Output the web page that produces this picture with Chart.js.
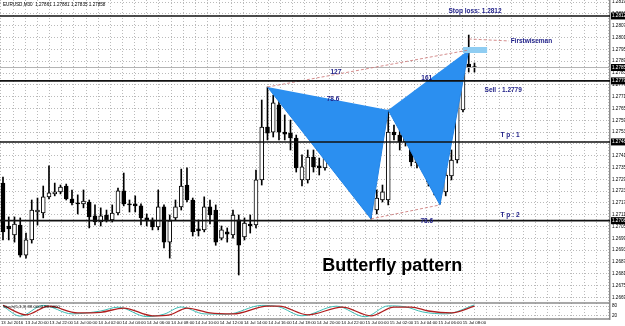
<!DOCTYPE html>
<html>
<head>
<meta charset="utf-8">
<script src="https://cdn.jsdelivr.net/npm/chart.js@4.4.1/dist/chart.umd.min.js"></script>
<style>
  html, body { margin: 0; padding: 0; background: #fff; }
  #wrap { position: relative; width: 625px; height: 326px; overflow: hidden; background: #fff; }
  #main { position: absolute; left: 0; top: 0; }
  #sub { position: absolute; left: 0; top: 302px; }
</style>
</head>
<body>
<div id="wrap">
  <canvas id="main" width="625" height="302"></canvas>
  <canvas id="sub" width="625" height="24"></canvas>
</div>
<script>
// ===== EURUSD M30 — butterfly pattern =====

// candles
const opens = [
  1.27271, 1.27053, 1.27007, 1.27058, 1.26905, 1.26982, 1.27124, 1.27119, 1.27201, 1.27216,
  1.27226, 1.27256, 1.27190, 1.27170, 1.27165, 1.27175, 1.27104, 1.27073, 1.27109, 1.27084,
  1.27119, 1.27231, 1.27165, 1.27165, 1.27155, 1.27094, 1.27084, 1.27048, 1.27150, 1.26971,
  1.27094, 1.27150, 1.27261, 1.27185, 1.27038, 1.27033, 1.27150, 1.27134, 1.26991, 1.27023,
  1.27007, 1.27084, 1.26997, 1.27063, 1.27058, 1.27287, 1.27556, 1.27530, 1.27668, 1.27530,
  1.27525, 1.27500, 1.27287, 1.27287, 1.27403, 1.27358, 1.27348, 1.27414, 1.27398, 1.27414,
  1.27388, 1.27368, 1.27383, 1.27327, 1.27246, 1.27134, 1.27185, 1.27185, 1.27530, 1.27515,
  1.27480, 1.27515, 1.27373, 1.27414, 1.27353, 1.27287, 1.27246, 1.27226, 1.27307, 1.27388,
  1.27642, 1.27876, 1.27861
];
const highs = [
  1.27302, 1.27099, 1.27099, 1.27094, 1.27017, 1.27185, 1.27195, 1.27256, 1.27358, 1.27271,
  1.27261, 1.27266, 1.27236, 1.27211, 1.27236, 1.27185, 1.27160, 1.27145, 1.27134, 1.27160,
  1.27246, 1.27322, 1.27185, 1.27206, 1.27165, 1.27114, 1.27094, 1.27236, 1.27160, 1.27109,
  1.27185, 1.27342, 1.27348, 1.27195, 1.27084, 1.27201, 1.27185, 1.27160, 1.27053, 1.27043,
  1.27134, 1.27109, 1.27094, 1.27109, 1.27337, 1.27693, 1.27759, 1.27718, 1.27693, 1.27617,
  1.27591, 1.27515, 1.27414, 1.27439, 1.27439, 1.27398, 1.27439, 1.27439, 1.27439, 1.27439,
  1.27439, 1.27414, 1.27414, 1.27337, 1.27261, 1.27236, 1.27261, 1.27642, 1.27566, 1.27541,
  1.27541, 1.27541, 1.27439, 1.27449, 1.27388, 1.27312, 1.27276, 1.27337, 1.27439, 1.27744,
  1.27896, 1.28023, 1.27881
];
const lows = [
  1.26982, 1.26982, 1.26971, 1.26895, 1.26890, 1.26966, 1.27058, 1.27094, 1.27190, 1.27206,
  1.27216, 1.27185, 1.27160, 1.27114, 1.27145, 1.27043, 1.27058, 1.27053, 1.27073, 1.27073,
  1.27109, 1.27155, 1.27124, 1.27124, 1.27058, 1.27053, 1.27033, 1.27033, 1.26941, 1.26890,
  1.27084, 1.27134, 1.27175, 1.27002, 1.27002, 1.27023, 1.27063, 1.26955, 1.26982, 1.26971,
  1.26991, 1.26804, 1.26982, 1.27017, 1.27043, 1.27261, 1.27490, 1.27505, 1.27490, 1.27490,
  1.27439, 1.27327, 1.27256, 1.27271, 1.27327, 1.27312, 1.27337, 1.27378, 1.27363, 1.27348,
  1.27363, 1.27348, 1.27312, 1.27226, 1.27089, 1.27114, 1.27175, 1.27160, 1.27490, 1.27439,
  1.27459, 1.27358, 1.27348, 1.27327, 1.27256, 1.27211, 1.27165, 1.27206, 1.27287, 1.27373,
  1.27632, 1.27835, 1.27835
];
const closes = [
  1.27023, 1.27038, 1.27063, 1.26905, 1.26982, 1.27134, 1.27134, 1.27201, 1.27221, 1.27226,
  1.27251, 1.27190, 1.27170, 1.27165, 1.27180, 1.27099, 1.27073, 1.27104, 1.27084, 1.27119,
  1.27231, 1.27165, 1.27160, 1.27155, 1.27094, 1.27079, 1.27048, 1.27150, 1.26971, 1.27079,
  1.27150, 1.27256, 1.27185, 1.27023, 1.27028, 1.27150, 1.27109, 1.26971, 1.27033, 1.27012,
  1.27109, 1.26955, 1.27068, 1.27053, 1.27287, 1.27556, 1.27525, 1.27678, 1.27530, 1.27520,
  1.27500, 1.27348, 1.27353, 1.27403, 1.27353, 1.27348, 1.27403, 1.27403, 1.27409, 1.27373,
  1.27409, 1.27388, 1.27327, 1.27246, 1.27134, 1.27195, 1.27226, 1.27530, 1.27515, 1.27480,
  1.27510, 1.27378, 1.27414, 1.27353, 1.27276, 1.27236, 1.27221, 1.27312, 1.27388, 1.27718,
  1.27871, 1.27861, 1.27858
];

// time axis labels (one per second grid line)
const timeLabels = [
  '13 Jul 2016', '13 Jul 20:00', '13 Jul 22:00', '14 Jul 00:00', '14 Jul 02:00',
  '14 Jul 04:00', '14 Jul 06:00', '14 Jul 08:00', '14 Jul 10:00', '14 Jul 12:00',
  '14 Jul 14:00', '14 Jul 16:00', '14 Jul 18:00', '14 Jul 20:00', '14 Jul 22:00',
  '15 Jul 00:00', '15 Jul 02:00', '15 Jul 04:00', '15 Jul 06:00', '15 Jul 08:00'
];

// price axis ticks
const priceTicks = [
  1.26690, 1.26750, 1.26810, 1.26870, 1.26930, 1.26990, 1.27050, 1.27110, 1.27170,
  1.27230, 1.27290, 1.27350, 1.27410, 1.27470, 1.27530, 1.27590, 1.27650, 1.27710,
  1.27770, 1.27830, 1.27890, 1.27950, 1.28010, 1.28070, 1.28130, 1.28190
];

// horizontal levels: stop loss, sell, tp1, tp2
const levels = [1.2812, 1.2779, 1.2748, 1.2708];

// butterfly points X, A, B, C, D (candle index / price)
const patternIdx = [46, 64, 67, 76, 81];
const patternPrice = [1.27759, 1.27089, 1.27642, 1.27160, 1.27947];

// "Firstwiseman" marker
const wisemanIdx = [81, 88];
const wisemanPrice = [1.28003, 1.27993];
const wisemanBoxIdx = [80, 84.2];
const wisemanBoxPrice = 1.27947;

// stochastic (5,3,3)
const stochMainIdx = [0, 3, 7, 12, 17, 20, 25, 28, 31, 35, 39, 45, 48, 52, 58, 63, 67, 70, 73, 77, 82];
const stochMain = [80, 18, 85, 32, 50, 74, 15, 30, 75, 32, 30, 85, 76, 20, 80, 14, 82, 76, 44, 32, 88];
const stochSignalIdx = [0, 4, 8, 13, 17, 21, 26, 29, 32, 36, 40, 46, 48, 53, 59, 64, 68, 71, 74, 78, 82];
const stochSignal = [86, 26, 80, 38, 42, 68, 20, 26, 68, 38, 32, 80, 80, 26, 74, 20, 74, 74, 50, 38, 80];

// text notes on the chart
const noteText = ['Stop loss: 1.2812', 'Firstwiseman', '127', '161', '78.6', '78.6', 'Sell : 1.2779', 'T p : 1', 'T p : 2'];
const noteIdx = [82.1, 91.9, 57.9, 73.7, 57.4, 73.7, 87, 88.2, 88.2];
const notePrice = [1.28145, 1.27993, 1.27835, 1.27805, 1.27698, 1.27079, 1.27744, 1.27515, 1.27109];
const titleText = 'Butterfly pattern';
const titleIdx = 67.7;
const titlePrice = 1.26824;

// ---- layout ----
const X_MIN = -0.52, X_MAX = 105.57;
const Y_MIN = 1.266668, Y_MAX = 1.28201;
const GRID = 'rgba(130,130,130,0.55)';
const FONT = '"Liberation Sans", Arial, sans-serif';
const NARROW = '"Liberation Sans Narrow", "Liberation Sans", Arial, sans-serif';
const NAVY = '#1c1c86';

const gridValues = [];
for (let v = -0.35; v <= X_MAX; v += 2.113) gridValues.push(v);

const last = opens.length - 1;

const xAxis = (showLabels) => ({
  type: 'linear', min: X_MIN, max: X_MAX, offset: false,
  grid: { color: GRID, lineWidth: 1, drawTicks: false, offset: false },
  border: { display: false, dash: [1, 2] },
  afterBuildTicks: s => { s.ticks = gridValues.map(v => ({ value: v })); },
  ticks: {
    display: showLabels, autoSkip: false, maxRotation: 0, minRotation: 0,
    align: 'start', padding: 1, color: '#000',
    font: { size: 4.3, family: NARROW },
    callback: (v, i) => (i % 2 === 0 && timeLabels[i / 2]) ? timeLabels[i / 2] : ''
  },
  afterFit: s => {
    s.height = showLabels ? 7 : 0;
    s.paddingLeft = 0; s.paddingRight = 0;
  }
});

const lineSet = (data, extra) => Object.assign({
  type: 'line', data, pointRadius: 0, borderWidth: 1, fill: false, order: 0
}, extra);

// ---- main chart ----
const hLineSets = levels.map(lv => lineSet(
  [{ x: X_MIN - 1, y: lv }, { x: X_MAX + 1, y: lv }],
  { borderColor: '#111', borderWidth: 1.6 }
));

const bidSet = lineSet(
  [{ x: X_MIN - 1, y: closes[last] }, { x: X_MAX + 1, y: closes[last] }],
  { borderColor: '#b4b4b4', borderWidth: 1, order: 1 }
);

const tri = (ids) => lineSet(
  ids.map(k => ({ x: patternIdx[k], y: patternPrice[k] })),
  { fill: 'shape', backgroundColor: '#2b8ff0', borderColor: '#2384e6', borderWidth: 1, order: 1 }
);

const dashed = (pts) => lineSet(pts, { borderColor: 'rgba(205,120,120,0.85)', borderDash: [3, 2], borderWidth: 1 });

const mainSets = [
  ...hLineSets,
  dashed([{ x: patternIdx[0], y: patternPrice[0] }, { x: patternIdx[4], y: patternPrice[4] }]),
  dashed([{ x: patternIdx[1], y: patternPrice[1] }, { x: patternIdx[3], y: patternPrice[3] }]),
  dashed(wisemanIdx.map((x, i) => ({ x, y: wisemanPrice[i] }))),
  lineSet(wisemanBoxIdx.map(x => ({ x, y: wisemanBoxPrice })),
    { borderColor: '#8fcdf2', borderWidth: 6, borderCapStyle: 'butt' }),
  tri([0, 1, 2]),
  tri([2, 3, 4]),
  bidSet,
  {
    type: 'bar', label: 'body', order: 2, grouped: false,
    data: opens.map((o, i) => ({ x: i, y: [o, closes[i]] })),
    backgroundColor: opens.map((o, i) => closes[i] >= o ? '#ffffff' : '#000000'),
    borderColor: '#000', borderWidth: 1, borderSkipped: false,
    barThickness: 4, minBarLength: 1
  },
  {
    type: 'bar', label: 'wick', order: 3, grouped: false,
    data: lows.map((l, i) => ({ x: i, y: [l, highs[i]] })),
    backgroundColor: '#000', borderWidth: 0, barThickness: 1
  }
];

const mainPlugin = {
  id: 'mainNotes',
  afterDraw(chart) {
    const { ctx, scales: { x, y }, chartArea } = chart;
    ctx.save();
    // header
    ctx.fillStyle = '#000';
    ctx.font = '4.6px ' + FONT;
    ctx.textAlign = 'left';
    ctx.textBaseline = 'middle';
    ctx.fillText('EURUSD,M30  ' + [opens[last], highs[last], lows[last], closes[last]].map(v => v.toFixed(5)).join(' '), 3, 4.5);

    // notes
    ctx.font = 'bold 6.5px ' + FONT;
    ctx.fillStyle = NAVY;
    ctx.textAlign = 'center';
    noteText.forEach((t, i) => {
      ctx.fillText(t, x.getPixelForValue(noteIdx[i]), y.getPixelForValue(notePrice[i]));
    });

    ctx.font = 'bold 18px ' + FONT;
    ctx.fillStyle = '#000';
    ctx.textBaseline = 'alphabetic';
    ctx.fillText(titleText, x.getPixelForValue(titleIdx), y.getPixelForValue(titlePrice));

    // highlighted price labels on the axis
    ctx.font = '4.6px ' + NARROW;
    ctx.textAlign = 'left';
    ctx.textBaseline = 'middle';
    [...levels, closes[last]].forEach(lv => {
      const py = y.getPixelForValue(lv);
      ctx.fillStyle = '#000';
      ctx.fillRect(chartArea.right + 1, py - 3.5, 14, 7);
      ctx.fillStyle = '#fff';
      ctx.fillText(lv.toFixed(5), chartArea.right + 2, py);
    });
    ctx.restore();
  }
};

new Chart(document.getElementById('main'), {
  type: 'bar',
  data: { datasets: mainSets },
  options: {
    responsive: false, animation: false, devicePixelRatio: 1,
    layout: { padding: 0 },
    plugins: { legend: { display: false }, tooltip: { enabled: false } },
    scales: {
      x: xAxis(false),
      y: {
        type: 'linear', position: 'right', min: Y_MIN, max: Y_MAX, beginAtZero: false,
        afterBuildTicks: s => { s.ticks = priceTicks.map(v => ({ value: v })); },
        grid: { color: GRID, drawTicks: false },
        border: { display: true, color: '#8c8c8c', width: 1.5, dash: [1, 2] },
        ticks: { font: { size: 4.6, family: NARROW }, color: '#000', padding: 2, callback: v => v.toFixed(5) },
        afterFit: s => { s.width = 15; s.paddingTop = 0; s.paddingBottom = 0; }
      }
    }
  },
  plugins: [mainPlugin]
});

// ---- stochastic sub window ----
const subPlugin = {
  id: 'subFrame',
  afterDraw(chart) {
    const { ctx, chartArea: a } = chart;
    ctx.save();
    ctx.strokeStyle = '#8c8c8c';
    ctx.lineWidth = 1.5;
    ctx.beginPath();
    ctx.moveTo(0, a.top); ctx.lineTo(a.right, a.top);
    ctx.moveTo(0, a.bottom); ctx.lineTo(a.right, a.bottom);
    ctx.stroke();
    ctx.fillStyle = '#000';
    ctx.font = '4.3px ' + FONT;
    ctx.textBaseline = 'middle';
    ctx.fillText('Stoch(5,3,3) ' + stochMain[stochMain.length - 1].toFixed(4) + ' ' +
      stochSignal[stochSignal.length - 1].toFixed(4), 3, a.top + 4);
    ctx.restore();
  }
};

new Chart(document.getElementById('sub'), {
  type: 'line',
  data: {
    datasets: [
      lineSet(stochSignalIdx.map((x, i) => ({ x, y: stochSignal[i] })),
        { borderColor: '#b01e1e', borderWidth: 1.3, cubicInterpolationMode: 'monotone' }),
      lineSet(stochMainIdx.map((x, i) => ({ x, y: stochMain[i] })),
        { borderColor: '#3cbcb4', borderWidth: 1, cubicInterpolationMode: 'monotone', order: 1 })
    ]
  },
  options: {
    responsive: false, animation: false, devicePixelRatio: 1,
    layout: { padding: { top: 1 } },
    plugins: { legend: { display: false }, tooltip: { enabled: false } },
    scales: {
      x: xAxis(true),
      y: {
        type: 'linear', position: 'right', min: 0, max: 100,
        afterBuildTicks: s => { s.ticks = [20, 80].map(v => ({ value: v })); },
        grid: { color: GRID, drawTicks: false },
        border: { display: true, color: '#8c8c8c', width: 1.5, dash: [1, 2] },
        ticks: { font: { size: 4.6, family: NARROW }, color: '#000', padding: 2 },
        afterFit: s => { s.width = 15; s.paddingTop = 0; s.paddingBottom = 0; }
      }
    }
  },
  plugins: [subPlugin]
});
</script>
</body>
</html>
